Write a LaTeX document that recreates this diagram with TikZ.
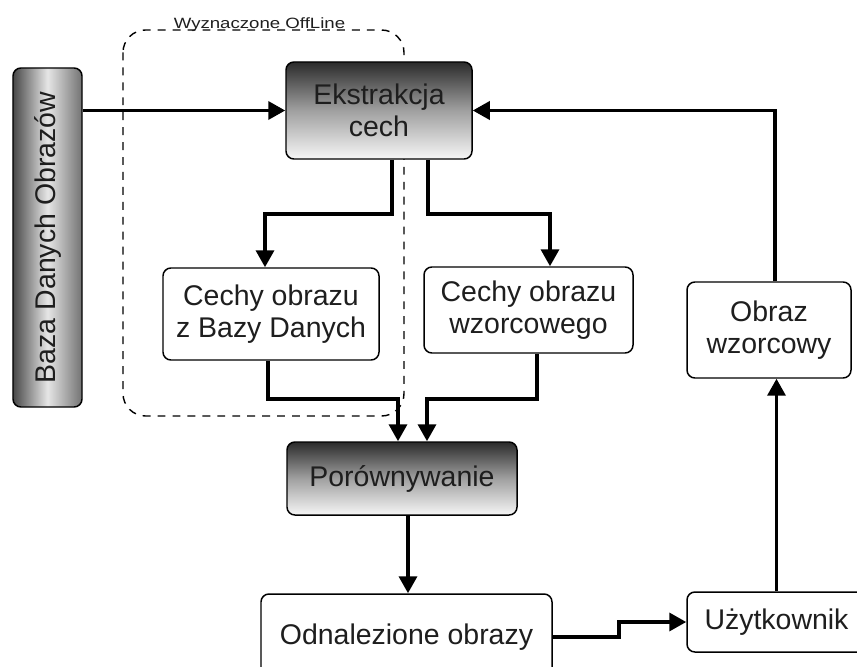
\documentclass[tikz,border=0pt]{standalone}
\usepackage{fontspec}
\setmainfont{Liberation Sans}
\usepackage{tikz}
\usetikzlibrary{arrows.meta}
\definecolor{cbirdark} {HTML}{2B2B2B}
\definecolor{cbirmid}  {HTML}{A0A0A0}
\definecolor{cbirlight}{HTML}{F6F6F6}
\definecolor{cbirtext} {HTML}{1E1E1E}

\begin{document}
\begin{tikzpicture}[
  box/.style={draw=black,line width=0.85pt,rounded corners=4.5pt,align=center,
              inner sep=0pt,text=cbirtext,
              font=\fontsize{16.2}{18}\selectfont},
  plain/.style={box,fill=white},
  grad/.style={box,top color=cbirdark,bottom color=cbirlight,middle color=cbirmid},
  side/.style={box,left color=black!72,right color=black!55,middle color=black!10},
  arr/.style={-{Triangle[length=3.4mm,width=3.6mm]},line width=2pt},
  offl/.style={dashed,dash pattern=on 4.5pt off 4pt,line width=0.8pt,rounded corners=0.45cm}
]
\useasboundingbox (0,0) rectangle (17.14,-13.34);
\clip (0,0) rectangle (17.14,-13.34);

\draw[offl] (2.46,-0.6) rectangle (8.08,-8.32);

\node[side,minimum width=1.38cm,minimum height=6.78cm] (baza) at (0.95,-4.75)
  {\rotatebox{90}{Baza Danych Obrazów}};
\node[grad,minimum width=3.72cm,minimum height=1.94cm] (ekstr) at (7.58,-2.21)
  {Ekstrakcja\\cech};
\node[plain,minimum width=4.32cm,minimum height=1.84cm] (cdb) at (5.42,-6.28)
  {Cechy obrazu\\z Bazy Danych};
\node[plain,minimum width=4.18cm,minimum height=1.72cm] (cwz) at (10.57,-6.2)
  {Cechy obrazu\\wzorcowego};
\node[plain,minimum width=3.28cm,minimum height=1.92cm] (obraz) at (15.38,-6.6)
  {Obraz\\wzorcowy};
\node[grad,minimum width=4.6cm,minimum height=1.46cm] (por) at (8.04,-9.57)
  {Porównywanie};
\node[plain,minimum width=5.82cm,minimum height=1.72cm] (odn) at (8.13,-12.74)
  {Odnalezione obrazy};
\node[plain,minimum width=3.58cm,minimum height=1.2cm] (uzyt) at (15.53,-12.44)
  {Użytkownik};
\node[anchor=base,inner sep=0pt,font=\fontsize{10.6}{12}\selectfont,text=cbirtext] (offlab) at (5.19,-0.58)
  {\scalebox{1}[0.8]{Wyznaczone OffLine}};

\draw[arr] (baza.east |- ekstr.west) -- (ekstr.west);
\draw[arr] ([xshift=2.6mm]ekstr.south) -- ++(0,-1.08) -| ([xshift=-1.2mm]cdb.north);
\draw[arr] ([xshift=9.8mm]ekstr.south) -- ++(0,-1.08) -| ([xshift=4.3mm]cwz.north);
\draw[arr] ([xshift=-0.6mm]cdb.south) -- ++(0,-0.76) -| ([xshift=-0.8mm]por.north);
\draw[arr] ([xshift=1.7mm]cwz.south) -- ++(0,-0.9) -| ([xshift=5mm]por.north);
\draw[arr] ([xshift=1.2mm]por.south) -- ([xshift=1.2mm]por.south |- odn.north);
\draw[arr] (odn.east) -- ++(1.32,0) |- (uzyt.west);
\draw[arr] (uzyt.north) -- (uzyt.north |- obraz.south);
\draw[arr] ([xshift=1.2mm]obraz.north) |- (ekstr.east);
\end{tikzpicture}
\end{document}
